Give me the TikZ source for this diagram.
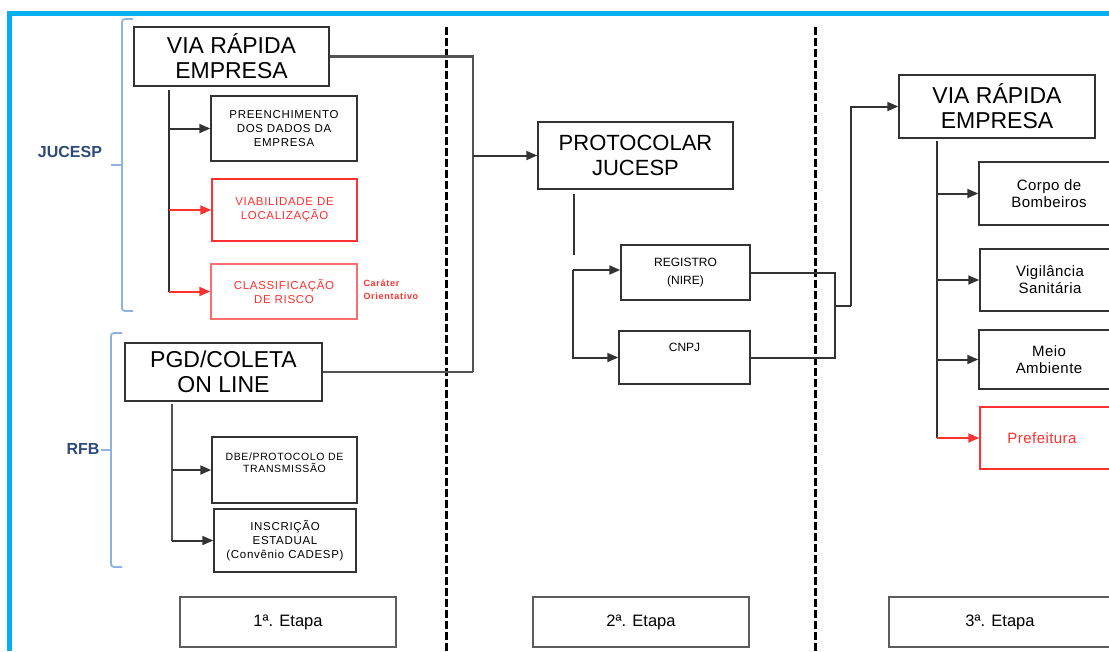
\documentclass[tikz,border=0pt]{standalone}
\usepackage{fontspec}
\setmainfont{Liberation Sans}
\usetikzlibrary{arrows.meta}
\definecolor{skyblue}{HTML}{00B0F0}
\definecolor{bracecol}{HTML}{8DB3E2}
\definecolor{labelblue}{HTML}{2E4A78}
\definecolor{redc}{HTML}{FF3030}
\definecolor{linec}{HTML}{333333}
\tikzset{
  box/.style={draw=linec,line width=1.5pt,fill=white,align=center,inner sep=2pt},
  redbox/.style={box,draw=redc,text=redc},
  big/.style={font=\fontsize{23}{25}\selectfont},
  small/.style={font=\fontsize{11.5}{14}\selectfont\addfontfeatures{LetterSpace=6}},
  mid/.style={font=\fontsize{15}{17}\selectfont\addfontfeatures{LetterSpace=3}},
  conn/.style={draw=linec,line width=2pt},
  arr/.style={conn,-{Triangle[length=11pt,width=9pt]}},
  redarr/.style={arr,draw=redc},
  divider/.style={draw=black,line width=3pt,dash pattern=on 8pt off 3pt},
  brace/.style={draw=bracecol,line width=1.8pt,rounded corners=3pt},
  side/.style={text=labelblue,font=\bfseries\fontsize{16}{18}\selectfont},
  stage/.style={box,draw=linec!80,line width=1.2pt,font=\fontsize{16.5}{18}\selectfont,minimum height=50pt},
}
\begin{document}
\begin{tikzpicture}[x=1pt,y=-1pt]
\useasboundingbox (0,0) rectangle (1109,651);
\clip (0,0) rectangle (1109,651);
\fill[white] (0,0) rectangle (1109,651);
% blue frame
\fill[skyblue] (7,11) rectangle (1109,16);
\fill[skyblue] (7,11) rectangle (12,651);
% dividers
\draw[divider] (446,27) -- (446,651);
\draw[divider] (815,27) -- (815,651);
% braces and labels
\draw[brace] (133,19) -- (122,19) -- (122,311) -- (133,311);
\draw[bracecol,line width=1.8pt] (122,165) -- (111,165);
\node[side] (jucesp) at (70,152) {JUCESP};
\draw[brace] (122,333) -- (111,333) -- (111,567) -- (122,567);
\draw[bracecol,line width=1.8pt] (111,450) -- (101,450);
\node[side] (rfb) at (83,449) {RFB};
% stage 1
\node[box,big,minimum width=195pt,minimum height=59pt] (vr1) at (231.5,56.5) {VIA RÁPIDA\\EMPRESA};
\node[box,small,minimum width=146pt,minimum height=65pt] (pre) at (284,128.5) {PREENCHIMENTO\\DOS DADOS DA\\EMPRESA};
\node[redbox,small,minimum width=145pt,minimum height=62pt] (via) at (284.5,210) {VIABILIDADE DE\\LOCALIZAÇÃO};
\node[redbox,small,draw=redc!70,minimum width=146pt,minimum height=55pt] (cla) at (284,291.5) {CLASSIFICAÇÃO\\DE RISCO};
\node[text=redc,font=\bfseries\fontsize{9}{13}\selectfont\addfontfeatures{LetterSpace=8},align=left,anchor=west] (car) at (360,290) {Caráter\\Orientativo};
\node[box,big,minimum width=197pt,minimum height=58pt] (pgd) at (223.5,372) {PGD/COLETA\\ON LINE};
\node[box,font=\fontsize{10.5}{12}\selectfont\addfontfeatures{LetterSpace=6},minimum width=145pt,minimum height=66pt] (dbe) at (284.5,470) {DBE/PROTOCOLO DE\\TRANSMISSÃO\\[3pt]};
\node[box,small,minimum width=142pt,minimum height=63pt] (ins) at (285,540.5) {INSCRIÇÃO\\ESTADUAL\\(Convênio CADESP)};
% stage labels
\node[stage,minimum width=216pt] (e1) at (288,622) {1ª. Etapa};
\node[stage,minimum width=216pt] (e2) at (641,622) {2ª. Etapa};
\node[stage,minimum width=222pt] (e3) at (1000,622) {3ª. Etapa};
% stage 2
\node[box,font=\fontsize{22}{25}\selectfont,minimum width=195pt,minimum height=67pt] (prot) at (635.5,155.5) {PROTOCOLAR\\JUCESP};
\node[box,font=\fontsize{12}{18}\selectfont,minimum width=129pt,minimum height=55pt] (reg) at (685.5,272.5) {REGISTRO\\(NIRE)};
\node[box,font=\fontsize{12}{16}\selectfont,minimum width=131pt,minimum height=53pt] (cnpj) at (684.5,357.5) {CNPJ\\[5pt]};
% stage 3
\node[box,big,minimum width=196pt,minimum height=63pt] (vr3) at (997,106.5) {VIA RÁPIDA\\EMPRESA};
\node[box,mid,minimum width=140pt,minimum height=63pt] (cor) at (1049,193.5) {Corpo de\\Bombeiros\hspace{16pt}};
\node[box,mid,minimum width=140pt,minimum height=62pt] (vig) at (1050,280) {Vigilância\\Sanitária\hspace{16pt}};
\node[box,mid,minimum width=140pt,minimum height=59pt] (mei) at (1049,359.5) {Meio\\Ambiente\hspace{16pt}};
\node[redbox,mid,minimum width=140pt,minimum height=62pt] (pref) at (1050,438) {Prefeitura\hspace{16pt}};
% connectors stage 1
\coordinate (jx) at (473,0);
\draw[conn,line width=2.6pt,draw=linec!85] (vr1.east) -| (pgd.east -| jx);
\draw[conn,line width=2.6pt,draw=linec!85] (pgd.east) -- (pgd.east -| jx);
\draw[arr] (prot.west -| jx) -- (prot.west);
\coordinate (t1) at (169,90);
\draw[conn] (t1) -- (t1 |- cla.west);
\draw[arr] (t1 |- pre.west) -- (pre.west);
\draw[redarr] (t1 |- via.west) -- (via.west);
\draw[redarr] (t1 |- cla.west) -- (cla.west);
\coordinate (t2) at (172,404);
\draw[conn,line width=2.6pt,draw=linec!85] (t2) -- (t2 |- ins.west);
\draw[arr] (t2 |- dbe.west) -- (dbe.west);
\draw[arr] (t2 |- ins.west) -- (ins.west);
% connectors stage 2
\coordinate (p1) at (574,194);
\coordinate (p2) at (574,255);
\draw[conn] (p1) -- (p2);
\coordinate (p3) at (573,270);
\draw[arr] (p3) -- (p3 -| reg.west);
\draw[arr] (p3) |- (cnpj.west);
\coordinate (m) at (835,306);
\coordinate (m2) at (851,306);
\draw[conn] (reg.east) -| (m);
\draw[conn] (cnpj.east) -| (m);
\draw[conn] (m) -- (m2);
\draw[arr] (m2) |- (vr3.west);
% connectors stage 3
\coordinate (t3) at (937,141);
\draw[conn] (t3) -- (t3 |- pref.west);
\draw[arr] (t3 |- cor.west) -- (cor.west);
\draw[arr] (t3 |- vig.west) -- (vig.west);
\draw[arr] (t3 |- mei.west) -- (mei.west);
\draw[redarr] (t3 |- pref.west) -- (pref.west);
\end{tikzpicture}
\end{document}
